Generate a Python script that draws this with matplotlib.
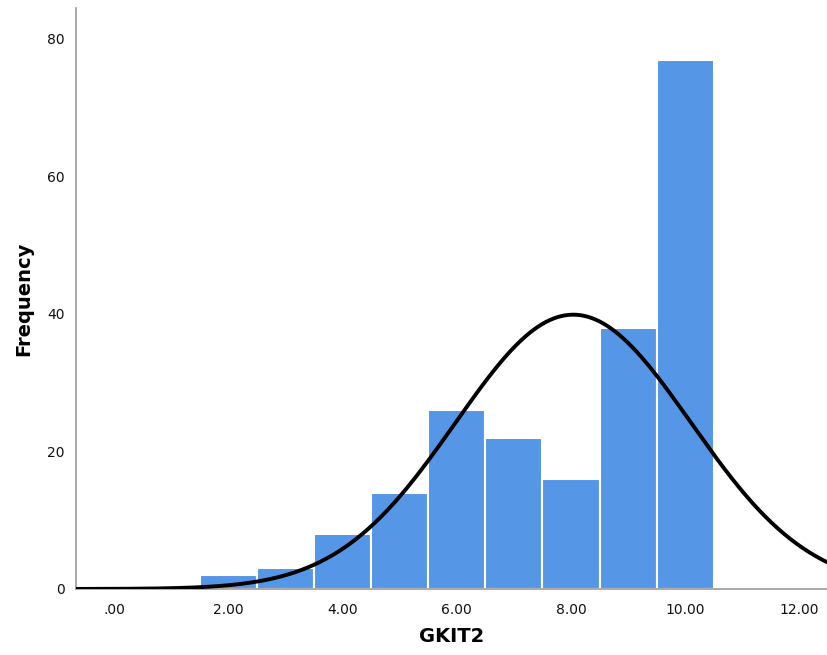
import numpy as np
import matplotlib
matplotlib.use("Agg")
import matplotlib.pyplot as plt

bin_centers = [2, 3, 4, 5, 6, 7, 8, 9, 10]
counts = [2, 3, 8, 14, 26, 22, 16, 38, 77]
xticks = [0, 2, 4, 6, 8, 10, 12]
xticklabels = [".00", "2.00", "4.00", "6.00", "8.00", "10.00", "12.00"]
yticks = [0, 20, 40, 60, 80]
mean_val = 8.04
sd_val = 2.06
n_total = sum(counts)

fig = plt.figure(figsize=(8.28, 6.55), dpi=100)
ax = fig.add_axes([0.0918, 0.1008, 0.9082, 0.887])

ax.bar(bin_centers, counts, width=1.0, color="#5596E6", edgecolor="white", linewidth=1.5, zorder=2)

xs = np.linspace(-0.7, 12.6, 600)
ys = n_total * 1.0 / (sd_val * np.sqrt(2 * np.pi)) * np.exp(-0.5 * ((xs - mean_val) / sd_val) ** 2)
ax.plot(xs, ys, color="black", linewidth=2.8, zorder=3, solid_capstyle="butt")

ax.set_xlim(-0.665, 12.5)
ax.set_ylim(0, 84.5)
ax.set_xticks(xticks)
ax.set_xticklabels(xticklabels)
ax.set_yticks(yticks)
ax.tick_params(axis="both", length=0, labelsize=10, colors="#111111", pad=8)
ax.tick_params(axis="x", pad=10)

for s in ["top", "right"]:
    ax.spines[s].set_visible(False)
for s in ["left", "bottom"]:
    ax.spines[s].set_color("#999999")
    ax.spines[s].set_linewidth(1.2)

ax.set_xlabel("GKIT2", fontsize=14, fontweight="bold", labelpad=7)
ax.set_ylabel("Frequency", fontsize=14, fontweight="bold", labelpad=10)

fig.savefig("out.png", dpi=100)
